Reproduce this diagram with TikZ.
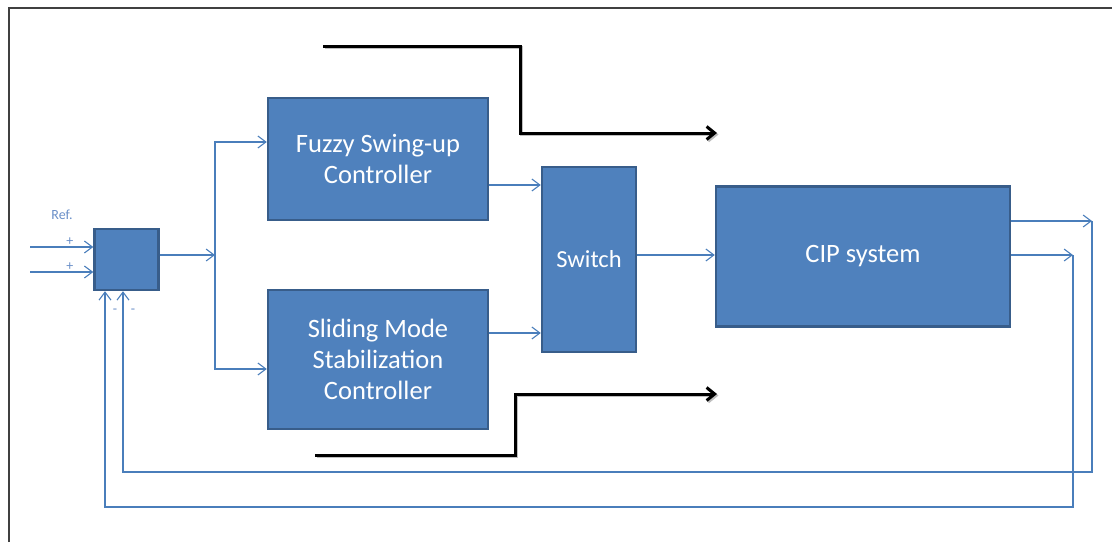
\documentclass[tikz,border=0pt]{standalone}
\usepackage{fontspec}
\setmainfont{Carlito}
\usetikzlibrary{arrows.meta, calc, positioning}

\definecolor{blockfill}{HTML}{4F81BD}
\definecolor{blockedge}{HTML}{385D8A}
\definecolor{wireblue}{HTML}{4A7EBB}
\definecolor{signblue}{HTML}{6A8FC8}

\tikzset{
  block/.style={draw=blockedge, line width=2.4pt, fill=blockfill, text=white,
                align=center, inner sep=0pt, font=\fontsize{26.5}{31}\selectfont},
  wire/.style={draw=wireblue, line width=1.1pt},
  wirearrow/.style={wire, -{Straight Barb[length=8pt,width=12pt]}},
  pulse/.style={draw=black, line width=3pt, -{Straight Barb[length=8pt,width=13pt]},
                preaction={draw=black!25, line width=3pt, transform canvas={shift={(1.5pt,-1.5pt)}}}},
  sign/.style={text=signblue, inner sep=1pt, font=\fontsize{14}{16}\selectfont},
}

\begin{document}
\begin{tikzpicture}[x=1pt, y=-1pt]
\useasboundingbox (0,0) rectangle (1112,542);

% frame of the slide, only two sides show
\draw[black!75, line width=2.2pt] (9,542) -- (9,8) -- (1112,8);

% blocks
\node[block, minimum width=64, minimum height=61] (sum) at (126.5,259.5) {};
\node[block, minimum width=220, minimum height=122] (fuzzy) at (378,159) {Fuzzy Swing-up\\Controller};
\node[block, minimum width=220, minimum height=139] (sliding) at (378,359.5) {Sliding Mode\\Stabilization\\Controller};
\node[block, minimum width=94, minimum height=185, font=\fontsize{24.5}{31}\selectfont] (switch) at (589,259.5) {Switch};
\node[block, minimum width=294, minimum height=140] (cip) at (863,256.5) {CIP system};

% reference inputs
\coordinate (in1) at (30,247);
\coordinate (in2) at (30,272);
\node[sign] (ref) at (62,215) {Ref.};
\draw[wirearrow] (in1) -- (in1 -| sum.west) node[pos=0.63, above, sign] (plus1) {+};
\draw[wirearrow] (in2) -- (in2 -| sum.west) node[pos=0.63, above, sign] (plus2) {+};

% split to both controllers
\coordinate (split) at (215,255);
\draw[wirearrow] (sum.east |- split) -- (split);
\draw[wirearrow] (split) |- (fuzzy.west |- 0,142);
\draw[wirearrow] (split) |- (sliding.west |- 0,369);

% controllers to switch, switch to plant
\draw[wirearrow] (fuzzy.east |- 0,185) -- (switch.west |- 0,185);
\draw[wirearrow] (sliding.east |- 0,333) -- (switch.west |- 0,333);
\draw[wirearrow] (switch.east |- 0,255) -- (cip.west |- 0,255);

% plant outputs and feedback
\coordinate (out1) at (1092,221);
\coordinate (out2) at (1073,255);
\coordinate (fb1) at (123,472);
\coordinate (fb2) at (105,507);
\draw[wirearrow] (cip.east |- out1) -- (out1);
\draw[wirearrow] (cip.east |- out2) -- (out2);
\draw[wirearrow] (out1) |- (fb1) -- (fb1 |- sum.south);
\draw[wirearrow] (out2) |- (fb2) -- (fb2 |- sum.south);
\node[sign] (minus1) at (115,311) {-};
\node[sign] (minus2) at (133,311) {-};

% switching signals
\coordinate (top0) at (323,46);
\coordinate (top1) at (717,133);
\coordinate (bot0) at (315,455);
\coordinate (bot1) at (717,394);
\draw[pulse] (top0) -- ++(197,0) |- (top1);
\draw[pulse] (bot0) -- ++(200,0) |- (bot1);
\end{tikzpicture}
\end{document}
